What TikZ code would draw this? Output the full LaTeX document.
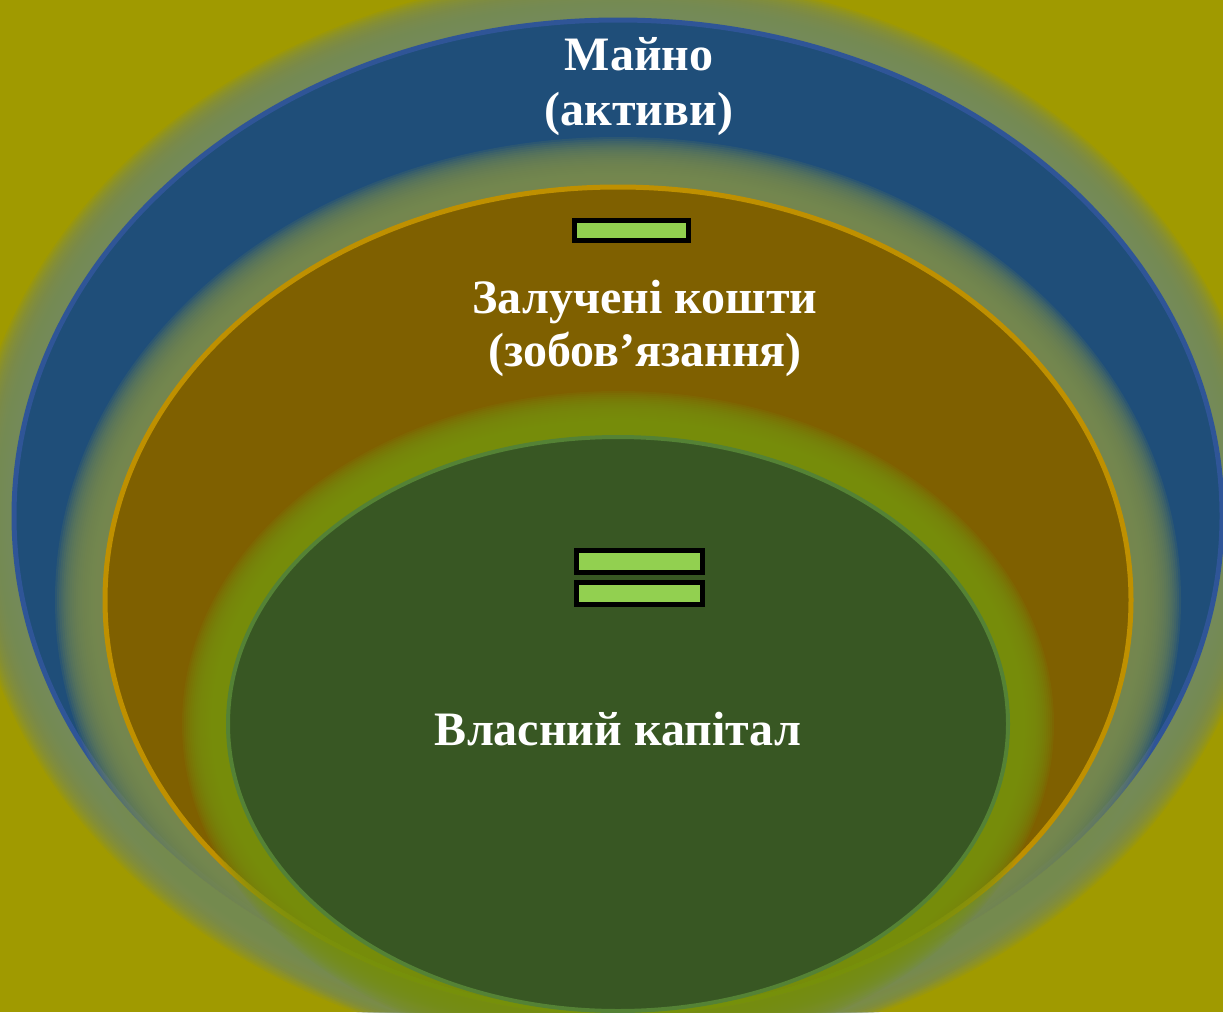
\documentclass[tikz,border=0pt]{standalone}
\usepackage{fontspec}
\setmainfont{Liberation Serif}
\definecolor{bgolive}{RGB}{160,154,0}
\definecolor{assetfill}{RGB}{31,78,121}
\definecolor{assetline}{RGB}{47,85,151}
\definecolor{debtfill}{RGB}{127,96,0}
\definecolor{debtline}{RGB}{191,144,0}
\definecolor{eqfill}{RGB}{56,87,35}
\definecolor{eqline}{RGB}{84,130,53}
\definecolor{glowA}{RGB}{116,138,94}
\definecolor{glowB}{RGB}{122,140,78}
\definecolor{glowC}{RGB}{118,146,16}
\definecolor{barfill}{RGB}{146,208,80}
% soft halo around an ellipse: #1,#2 centre, #3,#4 radii, #5 colour, #6 halo width
\newcommand\halo[6]{%
  \foreach \k in {0,...,23}{%
    \pgfmathsetmacro\hx{#3+#6*(1-\k/24)}%
    \pgfmathsetmacro\hy{#4+#6*(1-\k/24)}%
    \fill[#5, opacity=0.15] (#1,#2) ellipse [x radius=\hx pt, y radius=\hy pt];
  }}
\tikzset{
  label/.style={text=white, font=\bfseries\fontsize{48}{57}\selectfont, anchor=base, inner sep=0pt},
  bar/.style={draw=black, line width=5pt, fill=barfill, rectangle, inner sep=0pt},
}
\begin{document}
\begin{tikzpicture}[x=1pt,y=1pt]
  \useasboundingbox (0,0) rectangle (1223,-1012);
  \clip (0,0) rectangle (1223,-1012);
  \fill[bgolive] (0,0) rectangle (1223,-1012);
  % assets
  \halo{618}{-516}{604}{496}{glowA}{46}
  \fill[assetfill] (618,-516) ellipse [x radius=604pt, y radius=496pt];
  \draw[assetline, line width=5pt] (618,-516) ellipse [x radius=604pt, y radius=496pt];
  % liabilities
  \halo{618}{-600}{513}{413}{glowB}{50}
  \fill[debtfill] (618,-600) ellipse [x radius=513pt, y radius=413pt];
  \draw[debtline, line width=5pt] (618,-600) ellipse [x radius=513pt, y radius=413pt];
  % equity
  \halo{618}{-724}{390}{287}{glowC}{46}
  \fill[eqfill] (618,-724) ellipse [x radius=390pt, y radius=287pt];
  \draw[eqline, line width=4pt] (618,-724) ellipse [x radius=390pt, y radius=287pt];
  % texts
  \node[label] (assets1) at (639,-70) {Майно};
  \node[label] (assets2) at (639,-125) {(активи)};
  \node[label] (debt1) at (645,-313) {Залучені кошти};
  \node[label] (debt2) at (645,-366) {(зобов’язання)};
  \node[label] (equity) at (618,-745) {Власний капітал};
  % signs
  \node[bar, minimum width=114pt, minimum height=20pt] (minus) at (631.5,-230.5) {};
  \node[bar, minimum width=126pt, minimum height=22pt] (eqtop) at (639.5,-561.5) {};
  \node[bar, minimum width=126pt, minimum height=22pt] (eqbot) at (639.5,-593.5) {};
\end{tikzpicture}
\end{document}
